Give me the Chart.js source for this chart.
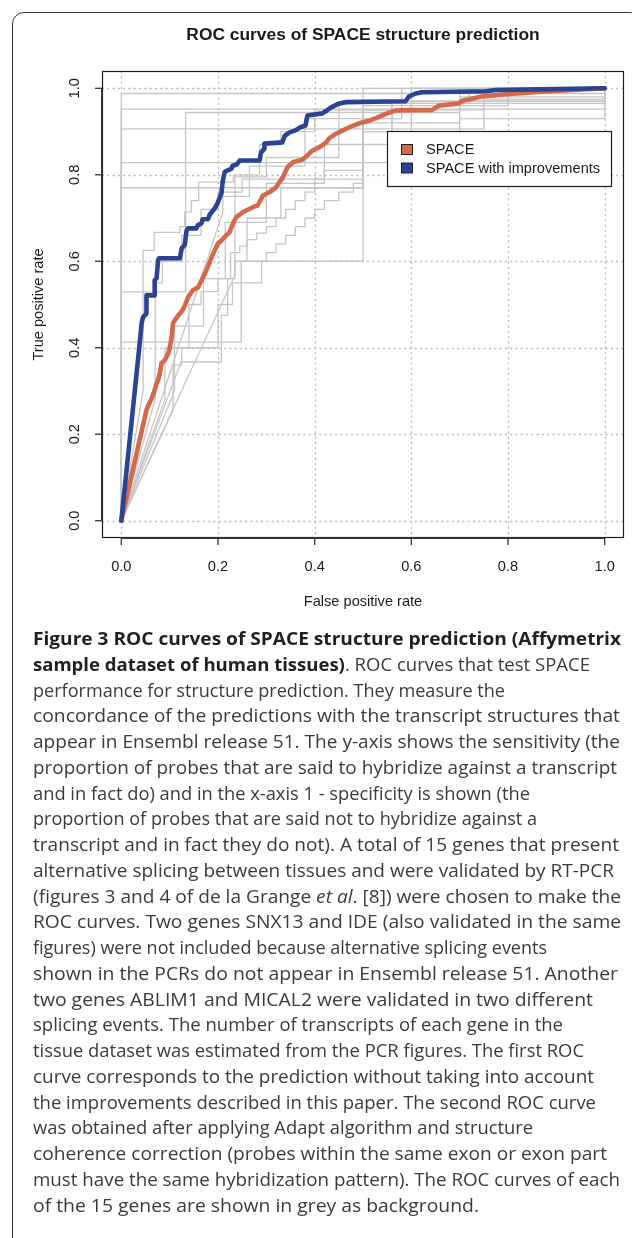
<!DOCTYPE html>
<html><head><meta charset="utf-8">
<script src="https://cdn.jsdelivr.net/npm/chart.js@4.4.0/dist/chart.umd.min.js"></script>
<style>
html,body{margin:0;padding:0;background:#fff;width:632px;height:1238px;overflow:hidden;}
#frame{position:absolute;left:12px;top:12px;width:630px;height:1300px;border:1.3px solid #3a3a3a;border-radius:12px;box-sizing:border-box;}
#wrap{position:absolute;left:0;top:0;width:632px;height:620px;}
#caption{position:absolute;left:33px;top:0;width:600px;height:1238px;font-family:"Open Sans";font-size:18px;color:#3b3b3b;}
.ln{position:absolute;left:0;white-space:nowrap;transform-origin:0 50%;line-height:26px;height:26px;}
.ln b{color:#231f20;font-weight:700;}
</style></head>
<body>
<div id="frame"></div>
<div id="wrap"><canvas id="c" width="632" height="620"></canvas></div>
<div id="caption"></div>
<script>
// ---- data ----
const xTickVals = [0, 0.2, 0.4, 0.6, 0.8, 1.0];
const xTickLabels = ["0.0", "0.2", "0.4", "0.6", "0.8", "1.0"];
const yTickVals = [0, 0.2, 0.4, 0.6, 0.8, 1.0];
const yTickLabels = ["0.0", "0.2", "0.4", "0.6", "0.8", "1.0"];
const seriesNames = ["SPACE", "SPACE with improvements"];

const spaceX = [0,0.052,0.056,0.063,0.069,0.073,0.076,0.080,0.083,0.090,0.097,0.100,0.104,0.107,0.111,0.118,0.125,0.131,0.138,0.148,0.159,0.166,0.173,0.179,0.186,0.193,0.200,0.207,0.217,0.224,0.231,0.238,0.252,0.272,0.282,0.293,0.307,0.320,0.334,0.344,0.355,0.375,0.385,0.395,0.410,0.424,0.430,0.444,0.457,0.472,0.492,0.513,0.527,0.547,0.568,0.643,0.657,0.698,0.705,0.746,0.802,0.870,1.0];
const spaceY = [0,0.256,0.267,0.283,0.302,0.318,0.325,0.343,0.364,0.371,0.387,0.399,0.424,0.457,0.464,0.475,0.484,0.496,0.517,0.533,0.540,0.556,0.572,0.587,0.607,0.625,0.641,0.648,0.660,0.667,0.688,0.702,0.714,0.725,0.729,0.752,0.760,0.771,0.794,0.818,0.829,0.835,0.845,0.856,0.864,0.875,0.884,0.895,0.902,0.910,0.919,0.925,0.931,0.941,0.949,0.950,0.960,0.965,0.971,0.981,0.987,0.992,1.0];

const improvedX = [0,0.0386,0.042,0.045,0.052,0.052,0.069,0.069,0.073,0.076,0.078,0.121,0.125,0.131,0.135,0.138,0.155,0.158,0.166,0.168,0.179,0.183,0.193,0.199,0.207,0.210,0.214,0.228,0.230,0.238,0.245,0.286,0.289,0.296,0.296,0.333,0.338,0.348,0.359,0.369,0.381,0.385,0.416,0.424,0.434,0.451,0.465,0.588,0.595,0.609,0.622,0.754,0.775,0.898,1.0];
const improvedY = [0,0.417,0.457,0.471,0.479,0.521,0.521,0.556,0.561,0.602,0.607,0.607,0.630,0.637,0.671,0.676,0.676,0.683,0.688,0.697,0.697,0.708,0.722,0.734,0.757,0.787,0.807,0.814,0.821,0.823,0.833,0.833,0.852,0.860,0.872,0.875,0.890,0.898,0.902,0.909,0.914,0.937,0.942,0.948,0.956,0.965,0.968,0.970,0.981,0.988,0.991,0.993,0.996,0.998,1.0];

// grey per-gene ROC curves: [fpr, tpr] pairs
const gene01 = [[0,0],[0,0.988],[1,0.988],[1,1]];
const gene02 = [[0,0],[0,0.952],[1,0.952],[1,1]];
const gene03 = [[0,0],[0,0.906],[0.75,0.906],[0.75,0.975],[1,0.975],[1,1]];
const gene04 = [[0,0],[0,0.828],[0.56,0.828],[0.56,0.97],[1,0.97],[1,1]];
const gene05 = [[0,0],[0,0.77],[0.5,0.77],[0.5,1],[1,1]];
const gene06 = [[0,0],[0,0.413],[0.248,0.413],[0.248,0.6],[0.5,0.6],[0.5,0.96],[0.8,0.96],[0.8,1],[1,1]];
const gene07 = [[0,0],[0,0.529],[0.133,0.529],[0.133,0.944],[0.7,0.944],[0.7,0.98],[1,0.98],[1,1]];
const gene08 = [[0,0],[0.045,0.30],[0.045,0.625],[0.068,0.625],[0.068,0.667],[0.121,0.667],[0.121,0.68],[0.131,0.68],[0.131,0.714],[0.145,0.714],[0.145,0.74],[0.16,0.74],[0.16,0.783],[0.232,0.783],[0.232,0.8],[0.286,0.8],[0.286,0.87],[0.33,0.87],[0.33,0.9],[0.4,0.9],[0.4,0.95],[0.6,0.95],[0.6,1],[1,1]];
const gene09 = [[0,0],[0.21,0.714],[0.21,0.75],[0.265,0.75],[0.265,0.82],[0.38,0.82],[0.38,0.93],[0.58,0.93],[0.58,1],[1,1]];
const gene10 = [[0,0],[0.235,0.567],[0.235,0.795],[0.3,0.795],[0.3,0.84],[0.45,0.84],[0.45,0.965],[1,0.965],[1,1]];
const gene11 = [[0,0],[0.11,0.30],[0.11,0.45],[0.17,0.45],[0.17,0.56],[0.226,0.56],[0.226,0.62],[0.245,0.62],[0.245,0.635],[0.26,0.635],[0.26,0.65],[0.28,0.65],[0.28,0.665],[0.3,0.665],[0.3,0.68],[0.32,0.68],[0.32,0.7],[0.34,0.7],[0.34,0.72],[0.36,0.72],[0.36,0.74],[0.38,0.74],[0.38,0.76],[0.4,0.76],[0.4,0.79],[0.42,0.79],[0.42,0.81],[0.5,0.81],[0.5,0.9],[0.56,0.9],[0.56,0.965],[0.72,0.965],[0.72,1],[1,1]];
const gene12 = [[0,0],[0.125,0.371],[0.125,0.40],[0.2,0.40],[0.2,0.5],[0.23,0.5],[0.23,0.55],[0.29,0.55],[0.29,0.6],[0.3,0.6],[0.3,0.62],[0.32,0.62],[0.32,0.64],[0.34,0.64],[0.34,0.66],[0.36,0.66],[0.36,0.68],[0.38,0.68],[0.38,0.70],[0.4,0.70],[0.4,0.72],[0.42,0.72],[0.42,0.74],[0.45,0.74],[0.45,0.76],[0.48,0.76],[0.48,0.78],[0.5,0.78],[0.5,0.95],[0.75,0.95],[0.75,1],[1,1]];
const gene13 = [[0,0],[0.107,0.256],[0.107,0.36],[0.125,0.36],[0.125,0.367],[0.207,0.367],[0.207,0.475],[0.22,0.475],[0.22,0.56],[0.235,0.56],[0.235,0.6],[0.26,0.6],[0.26,0.7],[0.33,0.7],[0.33,0.77],[0.5,0.77],[0.5,0.92],[0.7,0.92],[0.7,1],[1,1]];
const gene14 = [[0,0],[0.09,0.28],[0.09,0.40],[0.14,0.40],[0.14,0.5],[0.165,0.5],[0.165,0.53],[0.2,0.53],[0.2,0.56],[0.215,0.56],[0.215,0.69],[0.3,0.69],[0.3,0.78],[0.42,0.78],[0.42,0.87],[0.6,0.87],[0.6,0.97],[1,0.97],[1,1]];
const gene15 = [[0,0],[0.07,0.28],[0.07,0.55],[0.085,0.55],[0.085,0.6],[0.125,0.6],[0.125,0.66],[0.165,0.66],[0.165,0.72],[0.2,0.72],[0.2,0.76],[0.25,0.76],[0.25,0.79],[0.5,0.79],[0.5,0.9],[0.7,0.9],[0.7,0.93],[1,0.93],[1,1]];
const geneCurves = [gene01,gene02,gene03,gene04,gene05,gene06,gene07,gene08,gene09,gene10,gene11,gene12,gene13,gene14,gene15];

// ---- styles ----
const COL_SPACE = '#d4694b';
const COL_IMPR = '#2a4491';
const COL_GREY = '#c6c6c6';
const AX_FONT = '14.6px "Liberation Sans", Arial, sans-serif';

const toXY = (xs, ys) => xs.map((v, i) => ({x: v, y: ys[i]}));
const datasets = [];
datasets.push({label: seriesNames[1], data: toXY(improvedX, improvedY), borderColor: COL_IMPR, borderWidth: 4.6, order: 1});
datasets.push({label: seriesNames[0], data: toXY(spaceX, spaceY), borderColor: COL_SPACE, borderWidth: 4.6, order: 2});
geneCurves.forEach((g, i) => datasets.push({label: 'gene' + (i + 1), data: g.map(p => ({x: p[0], y: p[1]})), borderColor: COL_GREY, borderWidth: 1.3, order: 3}));
datasets.forEach(d => { d.showLine = true; d.pointRadius = 0; d.fill = false; d.tension = 0; d.borderJoinStyle = 'round'; d.borderCapStyle = 'round'; });

function seg(ctx, x1, y1, x2, y2) { ctx.beginPath(); ctx.moveTo(x1, y1); ctx.lineTo(x2, y2); ctx.stroke(); }

const rPlot = {
  id: 'rplot',
  beforeDatasetsDraw(chart) {
    const {ctx, chartArea: a, scales: {x, y}} = chart;
    ctx.save();
    ctx.strokeStyle = '#b8b8b8'; ctx.lineWidth = 1.3; ctx.setLineDash([2, 3.3]);
    xTickVals.forEach(v => { const p = Math.round(x.getPixelForValue(v)) + 0.5; seg(ctx, p, a.top, p, a.bottom); });
    yTickVals.forEach(v => { const p = Math.round(y.getPixelForValue(v)) + 0.5; seg(ctx, a.left, p, a.right, p); });
    ctx.restore();
  },
  afterDatasetsDraw(chart) {
    const {ctx, chartArea: a, scales: {x, y}} = chart;
    ctx.save();
    ctx.strokeStyle = '#1e1e1e'; ctx.lineWidth = 1.2;
    ctx.strokeRect(a.left + 0.5, a.top + 0.5, a.right - a.left - 1, a.bottom - a.top - 1);
    ctx.strokeStyle = '#333'; ctx.lineWidth = 2;
    const x0 = x.getPixelForValue(xTickVals[0]), x1 = x.getPixelForValue(xTickVals[xTickVals.length - 1]);
    const y0 = y.getPixelForValue(yTickVals[0]), y1 = y.getPixelForValue(yTickVals[yTickVals.length - 1]);
    seg(ctx, x0, a.bottom, x1, a.bottom);
    seg(ctx, a.left, y0, a.left, y1);
    ctx.lineWidth = 1.3;
    xTickVals.forEach(v => { const p = x.getPixelForValue(v); seg(ctx, p, a.bottom, p, a.bottom + 7); });
    yTickVals.forEach(v => { const p = y.getPixelForValue(v); seg(ctx, a.left, p, a.left - 7, p); });
    ctx.fillStyle = '#1a1a1a'; ctx.font = AX_FONT; ctx.textAlign = 'center'; ctx.textBaseline = 'middle';
    xTickVals.forEach((v, i) => ctx.fillText(xTickLabels[i], x.getPixelForValue(v), a.bottom + 29));
    yTickVals.forEach((v, i) => {
      ctx.save(); ctx.translate(a.left - 27, y.getPixelForValue(v)); ctx.rotate(-Math.PI / 2);
      ctx.fillText(yTickLabels[i], 0, 0); ctx.restore();
    });
    const cx = (a.left + a.right) / 2, cy = (a.top + a.bottom) / 2;
    ctx.fillText('False positive rate', cx, a.bottom + 64);
    ctx.save(); ctx.translate(39, cy); ctx.rotate(-Math.PI / 2); ctx.fillText('True positive rate', 0, 0); ctx.restore();
    ctx.font = 'bold 17.4px "Liberation Sans", Arial, sans-serif';
    ctx.fillText('ROC curves of SPACE structure prediction', cx, 35);
    const lx = 387, ly = 131, lw = 224, lh = 55;
    ctx.fillStyle = '#fff'; ctx.fillRect(lx, ly, lw, lh);
    ctx.strokeStyle = '#1e1e1e'; ctx.lineWidth = 1.2; ctx.strokeRect(lx + 0.5, ly + 0.5, lw, lh);
    const items = [[seriesNames[0], COL_SPACE, 149.5], [seriesNames[1], COL_IMPR, 168]];
    ctx.font = AX_FONT; ctx.textAlign = 'left';
    items.forEach(([t, c, yy]) => {
      ctx.fillStyle = c; ctx.fillRect(401.5, yy - 5, 11, 10);
      ctx.strokeStyle = '#222'; ctx.lineWidth = 1; ctx.strokeRect(401.5, yy - 5, 11, 10);
      ctx.fillStyle = '#1a1a1a'; ctx.fillText(t, 426, yy + 0.5);
    });
    ctx.restore();
  }
};

new Chart(document.getElementById('c'), {
  type: 'scatter',
  data: {datasets},
  options: {
    responsive: false, animation: false, devicePixelRatio: 1,
    layout: {padding: {left: 102, right: 8, top: 71, bottom: 82}},
    scales: {
      x: {type: 'linear', min: -0.04, max: 1.04, display: false},
      y: {type: 'linear', min: -0.04, max: 1.04, display: false}
    },
    plugins: {legend: {display: false}, tooltip: {enabled: false}, title: {display: false}}
  },
  plugins: [rPlot]
});

// ---- caption ----
const captionLines = [
  '<b>Figure 3 ROC curves of SPACE structure prediction (Affymetrix</b>',
  '<b>sample dataset of human tissues)</b>. ROC curves that test SPACE',
  'performance for structure prediction. They measure the',
  'concordance of the predictions with the transcript structures that',
  'appear in Ensembl release 51. The y-axis shows the sensitivity (the',
  'proportion of probes that are said to hybridize against a transcript',
  'and in fact do) and in the x-axis 1 - specificity is shown (the',
  'proportion of probes that are said not to hybridize against a',
  'transcript and in fact they do not). A total of 15 genes that present',
  'alternative splicing between tissues and were validated by RT-PCR',
  '(figures 3 and 4 of de la Grange <i>et al</i>. [8]) were chosen to make the',
  'ROC curves. Two genes SNX13 and IDE (also validated in the same',
  'figures) were not included because alternative splicing events',
  'shown in the PCRs do not appear in Ensembl release 51. Another',
  'two genes ABLIM1 and MICAL2 were validated in two different',
  'splicing events. The number of transcripts of each gene in the',
  'tissue dataset was estimated from the PCR figures. The first ROC',
  'curve corresponds to the prediction without taking into account',
  'the improvements described in this paper. The second ROC curve',
  'was obtained after applying Adapt algorithm and structure',
  'coherence correction (probes within the same exon or exon part',
  'must have the same hybridization pattern). The ROC curves of each',
  'of the 15 genes are shown in grey as background.'
];
const captionRight = [621,590,505,620,620,617,530,537,619,614,621,621,547,618,593,563,584,594,596,533,607,620,479];
const cap = document.getElementById('caption');
captionLines.forEach((h, i) => {
  const d = document.createElement('div');
  d.className = 'ln'; d.innerHTML = h;
  d.style.top = (625 + i * 25.75) + 'px';
  cap.appendChild(d);
});
function fitCaption() {
  [...cap.children].forEach((d, i) => {
    d.style.transform = 'none';
    const w = d.getBoundingClientRect().width;
    d.style.transform = 'scaleX(' + ((captionRight[i] - 33) / w).toFixed(4) + ')';
  });
}
fitCaption();
if (document.fonts && document.fonts.ready) document.fonts.ready.then(fitCaption);
</script>
</body></html>
